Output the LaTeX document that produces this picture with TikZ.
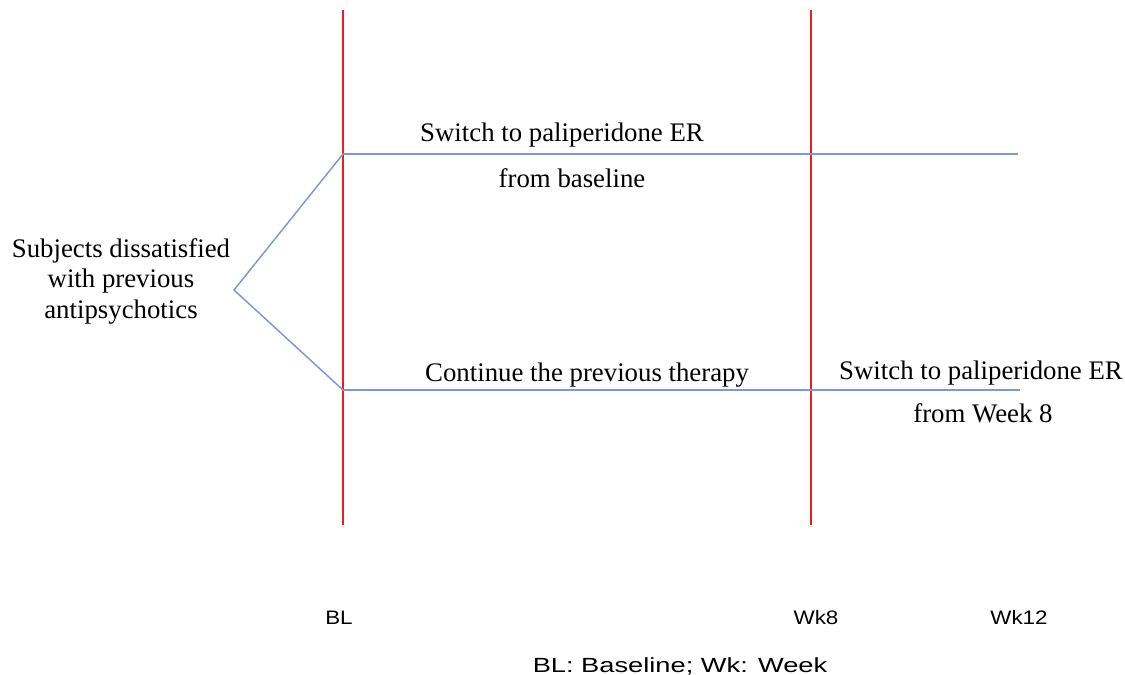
\documentclass[tikz,border=0pt]{standalone}
\usepackage{fontspec}
\setmainfont{Liberation Serif}
\setsansfont{Liberation Sans}
\definecolor{armblue}{RGB}{124,153,211}
\definecolor{timered}{RGB}{235,30,35}
\begin{document}
\begin{tikzpicture}[x=1pt,y=-1pt,
  timeline/.style={draw=timered,line width=1.4pt},
  arm/.style={draw=armblue,line width=1.5pt},
  lbl/.style={font=\fontsize{26.8}{30.5}\selectfont,inner sep=0pt,align=center},
  tick/.style={font=\sffamily\fontsize{19.5}{22}\selectfont,inner sep=0pt,anchor=base}]
\useasboundingbox (0,0) rectangle (1125,675);
% timeline markers
\coordinate (bltop) at (343,10);
\coordinate (blbot) at (343,525);
\coordinate (wktop) at (811,10);
\coordinate (wkbot) at (811,525);
% arms
\coordinate (apex) at (234,290);
\coordinate (upstart) at (343,154);
\coordinate (upend) at (1018,154);
\coordinate (lowstart) at (343,390);
\coordinate (lowend) at (1020,390);
\draw[timeline] (bltop) -- (blbot);
\draw[timeline] (wktop) -- (wkbot);
\draw[arm] (upstart) -- (apex) -- (lowstart);
\draw[arm] (upstart) -- (upend);
\draw[arm] (lowstart) -- (lowend);
% texts
\node[lbl] (subj) at (121,281) {Subjects dissatisfied\\with previous\\antipsychotics};
\node[lbl,anchor=base] (sw1) at (562,141) {Switch to paliperidone ER};
\node[lbl,anchor=base] (fb) at (572,187) {from baseline};
\node[lbl,anchor=base west] (cont) at (425,381) {Continue the previous therapy};
\node[lbl,anchor=base] (sw2) at (981,379) {Switch to paliperidone ER};
\node[lbl,anchor=base] (fw8) at (983,422) {from Week 8};
\node[tick] (bl) at (339,624) {\scalebox{1.15}[1]{BL}};
\node[tick] (wk8) at (816,624) {\scalebox{1.15}[1]{Wk8}};
\node[tick] (wk12) at (1019,624) {\scalebox{1.15}[1]{Wk12}};
\node[tick,font=\sffamily\fontsize{20.5}{22}\selectfont] (legend) at (680,672) {\scalebox{1.33}[1]{BL: Baseline; Wk: Week}};
\end{tikzpicture}
\end{document}
